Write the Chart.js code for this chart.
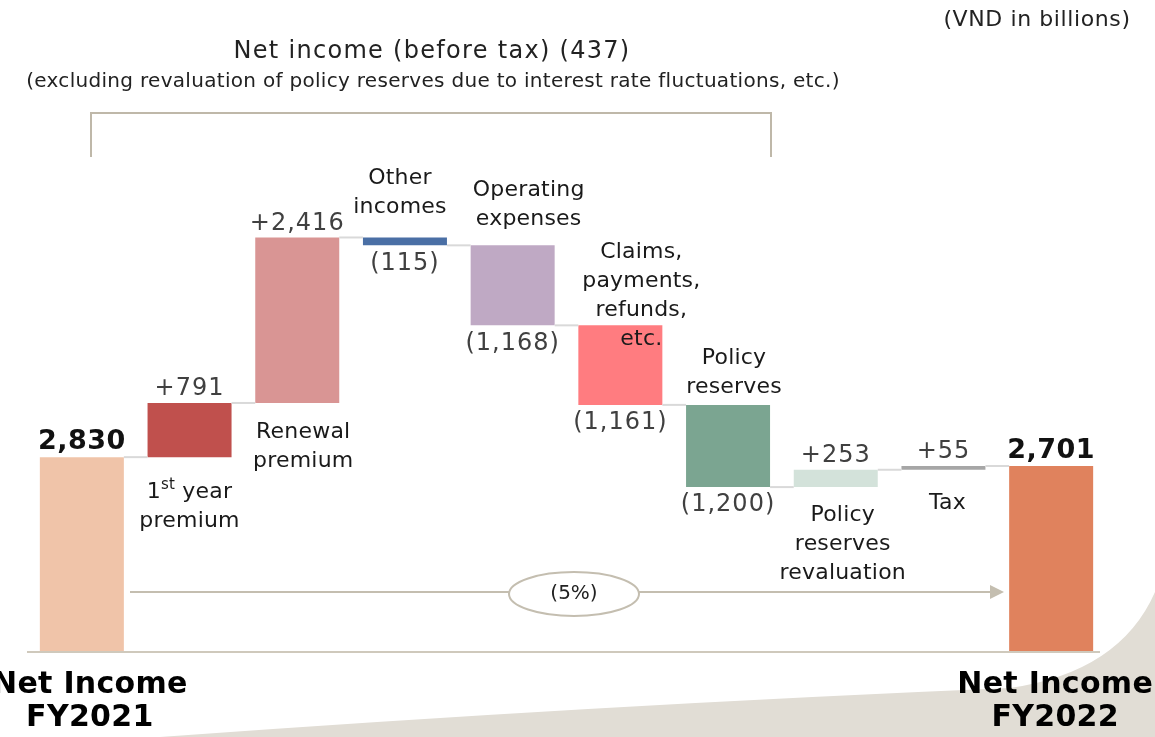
<!DOCTYPE html>
<html lang="en">
<head>
    <meta charset="UTF-8">
    <title>Net income waterfall FY2021 - FY2022</title>
    <script src="https://cdn.jsdelivr.net/npm/chart.js@4.4.1/dist/chart.umd.min.js"></script>
    <style>
        body { margin: 0; background: #ffffff; }
        #waterfall { display: block; }
    </style>
</head>
<body>
<canvas id="waterfall" width="1155" height="737"></canvas>

<script>
    // values in VND billions
    const categories = [
        ['Net Income', 'FY2021'],
        ['1st year', 'premium'],
        ['Renewal', 'premium'],
        ['Other', 'incomes'],
        ['Operating', 'expenses'],
        ['Claims,', 'payments,', 'refunds,', 'etc.'],
        ['Policy', 'reserves'],
        ['Policy', 'reserves', 'revaluation'],
        ['Tax'],
        ['Net Income', 'FY2022']
    ];
    const changes = [2830, 791, 2416, -115, -1168, -1161, -1200, 253, 55, 2701];
    const isTotal = [true, false, false, false, false, false, false, false, false, true];
    const valueLabels = ['2,830', '+791', '+2,416', '(115)', '(1,168)', '(1,161)', '(1,200)', '+253', '+55', '2,701'];
    const barColors = ['#F0C4A9', '#C0504D', '#D99594', '#4A6FA5', '#BFA9C4', '#FF7C80', '#7BA591', '#D3E2DA', '#A6A6A6', '#E0825D'];

    const titleText = 'Net income (before tax) (437)';
    const subtitleText = '(excluding revaluation of policy reserves due to interest rate fluctuations, etc.)';
    const unitText = '(VND in billions)';
    const growthText = '(5%)';

    // floating bars: [start, end]
    let running = 0;
    const ranges = changes.map((v, i) => {
        if (isTotal[i]) {
            running = v;
            return [0, v];
        }
        const start = running;
        running += v;
        return [start, running];
    });

    // where the category text sits: side of the bar and distance (px) to the first/last line centre
    const labelPlace = [
        { side: 'base', dy: 34, dx: 8 },
        { side: 'below', dy: 35 },
        { side: 'below', dy: 29, dx: 6 },
        { side: 'above', dy: -30, dx: -5 },
        { side: 'above', dy: -26, dx: 16 },
        { side: 'above', dy: 14, dx: 21 },
        { side: 'above', dy: -18, dx: 6 },
        { side: 'below', dy: 28, dx: 7 },
        { side: 'below', dy: 34, dx: 4 },
        { side: 'base', dy: 34, dx: 4 }
    ];
    const LINE_H = 29;
    const FONT = "'DejaVu Sans', Verdana, sans-serif";

    function drawLabelLine(ctx, text, x, y) {
        // superscript for ordinals like 1st
        const m = text.match(/^(\d+)(st|nd|rd|th)(.*)$/);
        if (!m) {
            ctx.fillText(text, x, y);
            return;
        }
        const big = ctx.font;
        const w1 = ctx.measureText(m[1]).width;
        const w3 = ctx.measureText(m[3]).width;
        ctx.font = '15px ' + FONT;
        const w2 = ctx.measureText(m[2]).width;
        const total = w1 + w2 + w3;
        let left = x - total / 2;
        ctx.textAlign = 'left';
        ctx.font = big;
        ctx.fillText(m[1], left, y);
        ctx.font = '15px ' + FONT;
        ctx.fillText(m[2], left + w1, y - 7);
        ctx.font = big;
        ctx.fillText(m[3], left + w1 + w2, y);
        ctx.textAlign = 'center';
    }

    const waterfallDecor = {
        id: 'waterfallDecor',
        beforeDraw(chart) {
            const ctx = chart.ctx;
            const area = chart.chartArea;
            ctx.save();

            // beige swoosh in the lower corner
            ctx.fillStyle = '#E1DDD5';
            ctx.beginPath();
            ctx.moveTo(160, 737);
            ctx.quadraticCurveTo(600, 705, 1010, 688);
            ctx.quadraticCurveTo(1120, 672, 1155, 592);
            ctx.lineTo(1155, 737);
            ctx.closePath();
            ctx.fill();

            ctx.fillStyle = '#222222';
            ctx.textAlign = 'center';
            ctx.textBaseline = 'middle';
            ctx.font = '22px ' + FONT;
            ctx.letterSpacing = '0.6px';
            ctx.fillText(unitText, 1037, 20);
            ctx.font = '24px ' + FONT;
            ctx.letterSpacing = '1.3px';
            ctx.fillText(titleText, 432, 52);
            ctx.font = '20px ' + FONT;
            ctx.letterSpacing = '0.3px';
            ctx.fillText(subtitleText, 433, 82);
            ctx.letterSpacing = '0px';

            // bracket over the pre-tax items
            ctx.strokeStyle = '#BFB8A9';
            ctx.lineWidth = 2;
            ctx.beginPath();
            ctx.moveTo(91, 157);
            ctx.lineTo(91, 113);
            ctx.lineTo(771, 113);
            ctx.lineTo(771, 157);
            ctx.stroke();

            // baseline
            ctx.strokeStyle = '#CFC9BC';
            ctx.beginPath();
            ctx.moveTo(27, area.bottom + 1);
            ctx.lineTo(1100, area.bottom + 1);
            ctx.stroke();
            ctx.restore();
        },
        afterDatasetsDraw(chart) {
            const ctx = chart.ctx;
            const bars = chart.getDatasetMeta(0).data;
            const y = chart.scales.y;
            ctx.save();

            // connectors between bars
            ctx.strokeStyle = '#D9D9D9';
            ctx.lineWidth = 2;
            for (let i = 0; i < bars.length - 1; i++) {
                const level = y.getPixelForValue(ranges[i][1]);
                ctx.beginPath();
                ctx.moveTo(bars[i].x + bars[i].width / 2, level);
                ctx.lineTo(bars[i + 1].x - bars[i + 1].width / 2, level);
                ctx.stroke();
            }

            ctx.textAlign = 'center';
            ctx.textBaseline = 'middle';

            // value labels
            bars.forEach((bar, i) => {
                const top = Math.min(bar.y, bar.base);
                const bottom = Math.max(bar.y, bar.base);
                if (isTotal[i]) {
                    ctx.font = 'bold 27px ' + FONT;
                    ctx.letterSpacing = '0.5px';
                    ctx.fillStyle = '#111111';
                    ctx.fillText(valueLabels[i], bar.x, top - 15);
                } else {
                    ctx.font = '24px ' + FONT;
                    ctx.letterSpacing = '1px';
                    ctx.fillStyle = '#404040';
                    if (changes[i] >= 0) {
                        ctx.fillText(valueLabels[i], bar.x, top - 14);
                    } else {
                        ctx.fillText(valueLabels[i], bar.x, bottom + 18);
                    }
                }
            });

            // category labels
            bars.forEach((bar, i) => {
                const lines = categories[i];
                const place = labelPlace[i];
                const cx = bar.x + (place.dx || 0);
                const top = Math.min(bar.y, bar.base);
                const bottom = Math.max(bar.y, bar.base);
                let firstY;
                if (place.side === 'base') {
                    ctx.font = 'bold 30px ' + FONT;
                    ctx.letterSpacing = '0.3px';
                    ctx.fillStyle = '#000000';
                    firstY = bottom + place.dy;
                    lines.forEach((t, k) => ctx.fillText(t, cx, firstY + k * 33));
                    return;
                }
                ctx.font = '22px ' + FONT;
                ctx.letterSpacing = '0.2px';
                ctx.fillStyle = '#1A1A1A';
                if (place.side === 'below') {
                    firstY = bottom + place.dy;
                } else {
                    firstY = top + place.dy - (lines.length - 1) * LINE_H;
                }
                lines.forEach((t, k) => drawLabelLine(ctx, t, cx, firstY + k * LINE_H));
            });
            ctx.letterSpacing = '0px';

            // growth arrow
            const ay = 592;
            ctx.strokeStyle = '#C4BEB0';
            ctx.fillStyle = '#C4BEB0';
            ctx.lineWidth = 2;
            ctx.beginPath();
            ctx.moveTo(130, ay);
            ctx.lineTo(992, ay);
            ctx.stroke();
            ctx.beginPath();
            ctx.moveTo(1004, ay);
            ctx.lineTo(990, ay - 7);
            ctx.lineTo(990, ay + 7);
            ctx.closePath();
            ctx.fill();

            ctx.beginPath();
            ctx.ellipse(574, 594, 65, 22, 0, 0, Math.PI * 2);
            ctx.fillStyle = '#ffffff';
            ctx.fill();
            ctx.stroke();
            ctx.fillStyle = '#222222';
            ctx.font = '20px ' + FONT;
            ctx.fillText(growthText, 574, 594);

            ctx.restore();
        }
    };

    new Chart(document.getElementById('waterfall'), {
        type: 'bar',
        data: {
            labels: categories,
            datasets: [{
                data: ranges,
                backgroundColor: barColors,
                borderWidth: 0,
                barPercentage: 0.78,
                categoryPercentage: 1
            }]
        },
        options: {
            responsive: false,
            animation: false,
            layout: {
                padding: { left: 28, right: 50, top: 103, bottom: 86 }
            },
            scales: {
                x: { display: false },
                y: { display: false, min: 0, max: 8000 }
            },
            plugins: {
                legend: { display: false },
                tooltip: { enabled: false }
            }
        },
        plugins: [waterfallDecor]
    });
</script>
</body>
</html>
